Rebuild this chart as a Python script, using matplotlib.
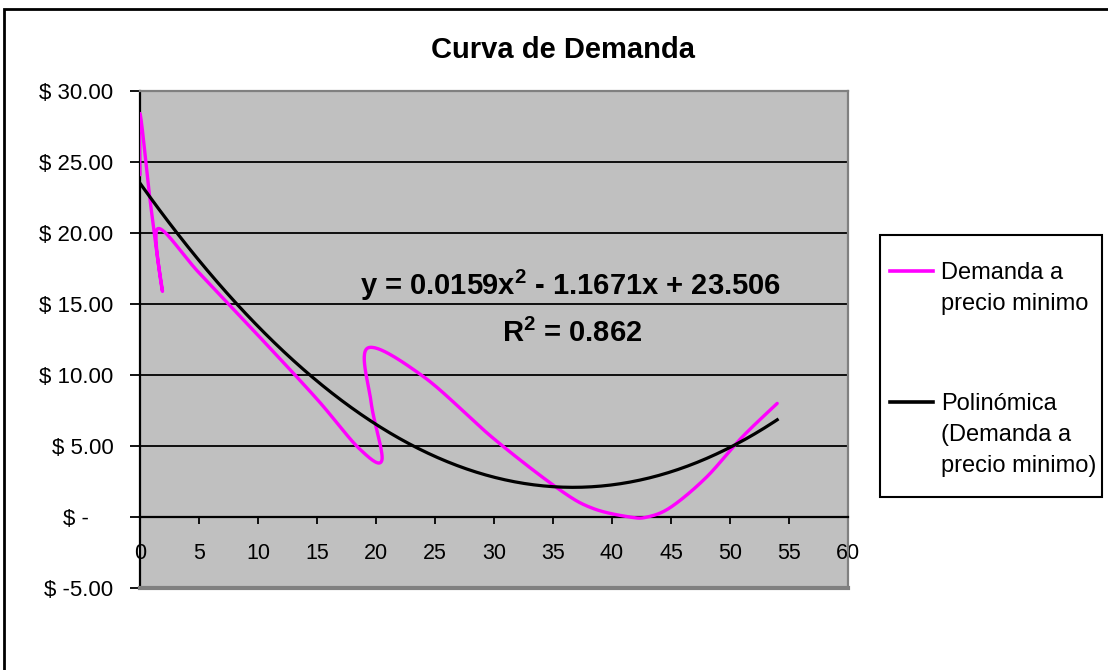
import numpy as np
import matplotlib
matplotlib.use("Agg")
import matplotlib.pyplot as plt
from matplotlib.patches import Rectangle
from matplotlib.lines import Line2D
from matplotlib.ticker import FuncFormatter

plt.rcParams['font.family'] = ['Liberation Sans', 'DejaVu Sans']
plt.rcParams['mathtext.fontset'] = 'custom'
plt.rcParams['mathtext.rm'] = 'Liberation Sans:bold'
plt.rcParams['mathtext.bf'] = 'Liberation Sans:bold'
plt.rcParams['mathtext.it'] = 'Liberation Sans:bold'

# ---- data ----
qty = [0.0, 0.0, 0.9, 1.9, 1.5, 5.0, 10.0, 15.0, 18.6, 20.5, 19.6, 19.3,
       24.0, 30.0, 35.6, 38.4, 41.5, 43.0, 45.0, 48.0, 51.0, 54.0]
price = [24.1, 28.4, 22.0, 15.9, 20.3, 17.2, 12.8, 8.3, 4.8, 4.0, 8.0, 11.9,
         9.9, 5.5, 1.9, 0.6, 0.0, 0.0, 0.7, 2.8, 5.6, 8.0]
trend_coef = [0.0159, -1.1671, 23.506]   # y = a x^2 + b x + c
r_squared = 0.862
series_label = "Demanda a\nprecio minimo"
trend_label = "Polinómica\n(Demanda a\nprecio minimo)"
x_ticks = list(range(0, 61, 5))
y_ticks = [-5, 0, 5, 10, 15, 20, 25, 30]

W, H = 1108, 670
MAG = '#FF00FF'


def catmull_rom(xs, ys, n=30):
    """Excel-like smoothed line through the points."""
    P = np.column_stack([xs, ys]).astype(float)
    P = np.vstack([P[0], P, P[-1]])
    out = []
    t = np.linspace(0, 1, n, endpoint=False)[:, None]
    for i in range(1, len(P) - 2):
        p0, p1, p2, p3 = P[i - 1], P[i], P[i + 1], P[i + 2]
        seg = 0.5 * ((2 * p1) + (-p0 + p2) * t + (2 * p0 - 5 * p1 + 4 * p2 - p3) * t ** 2
                     + (-p0 + 3 * p1 - 3 * p2 + p3) * t ** 3)
        out.append(seg)
    out.append(P[-2][None, :])
    S = np.vstack(out)
    return S[:, 0], S[:, 1]


def fx(px):
    return px / W


def fy(py):
    return 1 - py / H


fig = plt.figure(figsize=(W / 100, H / 100), dpi=100)
fig.patch.set_facecolor('white')

# outer chart border (right/bottom run off the image)
fig.patches.append(Rectangle((fx(4), fy(680)), fx(1115) - fx(4), fy(9) - fy(680),
                             transform=fig.transFigure, fill=False, ec='black', lw=2))

ax = fig.add_axes([fx(140), fy(588), fx(848) - fx(140), fy(91) - fy(588)])
ax.set_facecolor('#C0C0C0')
ax.set_xlim(0, 60)
ax.set_ylim(-5, 30)

ax.set_xticks(x_ticks)
ax.set_yticks(y_ticks)
ax.set_xticklabels([str(v) for v in x_ticks])


def yfmt(v, pos):
    if abs(v) < 1e-9:
        return '$ -    '
    return '$ {:.2f}'.format(v)


ax.yaxis.set_major_formatter(FuncFormatter(yfmt))

for yv in y_ticks:
    if -5 < yv < 30 and yv != 0:
        ax.axhline(yv, color='black', lw=1.3, zorder=1)

ax.spines['bottom'].set_position(('data', 0))
ax.spines['bottom'].set_color('black')
ax.spines['bottom'].set_linewidth(1.6)
ax.spines['left'].set_color('black')
ax.spines['left'].set_linewidth(1.6)
for s in ['top', 'right']:
    ax.spines[s].set_color('#808080')
    ax.spines[s].set_linewidth(1.6)
ax.axhline(-5, color='#808080', lw=3, zorder=3, clip_on=False)

ax.tick_params(axis='x', direction='out', length=5, width=1.3, pad=14,
               labelsize=15.5, colors='black')
ax.tick_params(axis='y', direction='out', length=7, width=1.3, pad=12,
               labelsize=16, colors='black')

# series
sx, sy = catmull_rom(qty, price)
ax.plot(sx, sy, color=MAG, lw=2.4, zorder=4, solid_capstyle='round',
        solid_joinstyle='round')

# polynomial trendline
tx = np.linspace(min(qty), max(qty), 200)
ty = np.polyval(trend_coef, tx)
ax.plot(tx, ty, color='black', lw=2.3, zorder=5)

# title
fig.text(fx(563), fy(50), 'Curva de Demanda', ha='center', va='center',
         fontsize=21, fontweight='bold')

# trendline equation
a, b, c = trend_coef
eq = r'y = {:.4f}x$^\mathbf{{2}}$ - {:.4f}x + {:.3f}'.format(a, -b, c)
fig.text(fx(571), fy(295), eq, ha='center', va='baseline', fontsize=21,
         fontweight='bold')
fig.text(fx(572), fy(342), r'R$^\mathbf{{2}}$ = {:.3f}'.format(r_squared), ha='center',
         va='baseline', fontsize=21, fontweight='bold')

# legend box
fig.patches.append(Rectangle((fx(880), fy(497)), fx(1102) - fx(880), fy(235) - fy(497),
                             transform=fig.transFigure, fill=False, ec='black', lw=1.5))
fig.lines.append(Line2D([fx(890), fx(933)], [fy(271), fy(271)],
                        transform=fig.transFigure, color=MAG, lw=2.6))
fig.lines.append(Line2D([fx(890), fx(933)], [fy(402), fy(402)],
                        transform=fig.transFigure, color='black', lw=2.6))
for i, line in enumerate(series_label.split('\n')):
    fig.text(fx(941), fy(279 + 31 * i), line, fontsize=17, va='baseline', ha='left')
for i, line in enumerate(trend_label.split('\n')):
    fig.text(fx(941), fy(410 + 31 * i), line, fontsize=17, va='baseline', ha='left')

fig.savefig('out.png', dpi=100)
